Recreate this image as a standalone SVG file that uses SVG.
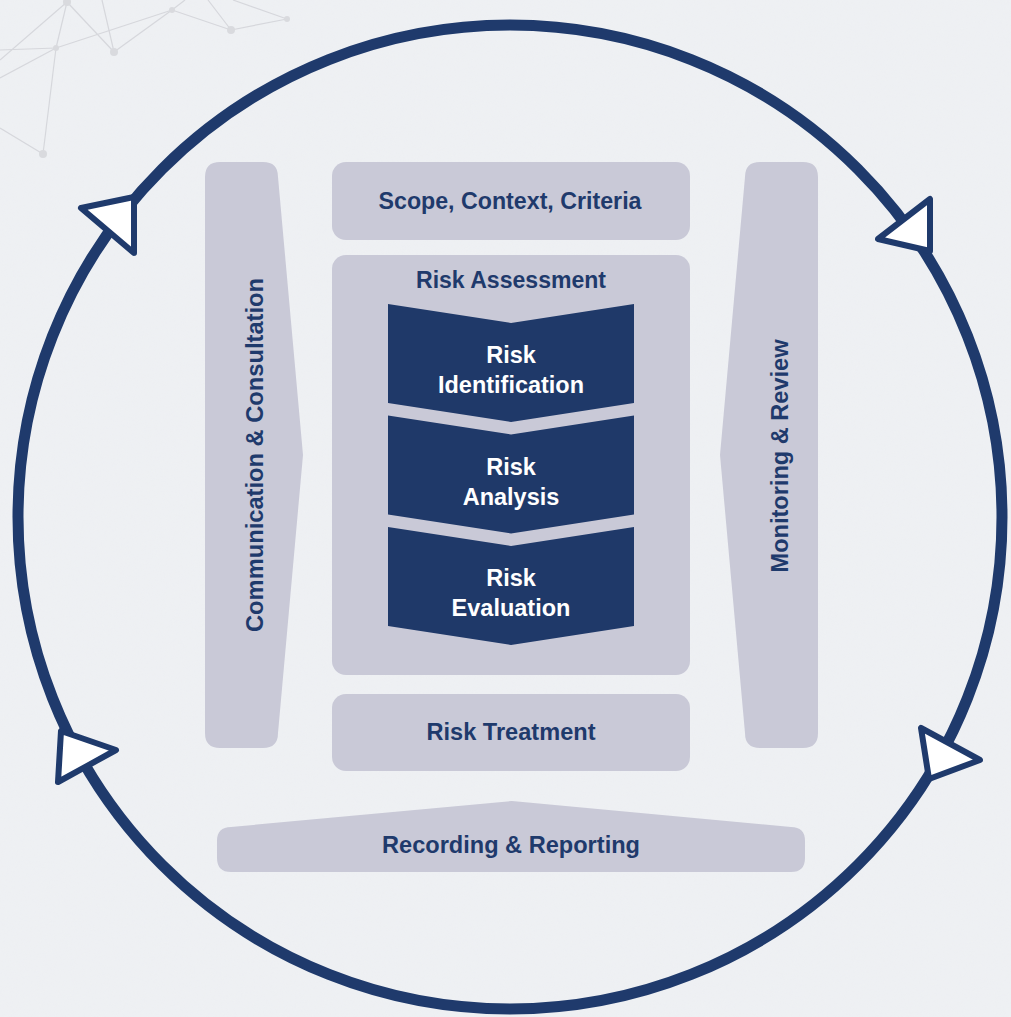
<svg xmlns="http://www.w3.org/2000/svg" width="1011" height="1017" viewBox="0 0 1011 1017">
  <defs>
    <style>
      .bg { fill: #eef0f3; }
      .net line { stroke: #d6d7dc; stroke-width: 1.2; }
      .net circle { fill: #d9dade; }
      .box { fill: #c9c9d7; }
      .chev { fill: #1f3969; }
      .ring { fill: none; stroke: #1f3a6c; stroke-width: 11; }
      .arrow { fill: #ffffff; stroke: #1f3a6c; stroke-width: 6; stroke-linejoin: round; }
      .lbl { font-family: "Liberation Sans", Arial, sans-serif; font-weight: bold; font-size: 23px; fill: #1f3a6c; text-anchor: middle; }
      .wlbl { font-family: "Liberation Sans", Arial, sans-serif; font-weight: bold; font-size: 23.5px; fill: #ffffff; text-anchor: middle; }
    </style>
    <filter id="paper" x="0" y="0" width="100%" height="100%">
      <feTurbulence type="fractalNoise" baseFrequency="0.9" numOctaves="2" seed="3" result="n"/>
      <feColorMatrix in="n" type="matrix" values="0 0 0 0 0.85  0 0 0 0 0.86  0 0 0 0 0.88  0 0 0 0.25 0"/>
    </filter>
  </defs>
  <rect class="bg" x="0" y="0" width="1011" height="1017"/>
  <rect x="0" y="0" width="1011" height="1017" filter="url(#paper)" opacity="0.6"/>

  <g class="net">
    <line x1="67" y1="2" x2="56" y2="48"/>
    <line x1="67" y1="2" x2="114" y2="52"/>
    <line x1="67" y1="2" x2="0" y2="60"/>
    <line x1="56" y1="48" x2="0" y2="50"/>
    <line x1="56" y1="48" x2="0" y2="78"/>
    <line x1="56" y1="48" x2="43" y2="154"/>
    <line x1="56" y1="48" x2="172" y2="10"/>
    <line x1="114" y1="52" x2="172" y2="10"/>
    <line x1="114" y1="52" x2="102" y2="0"/>
    <line x1="0" y1="128" x2="43" y2="154"/>
    <line x1="172" y1="10" x2="231" y2="30"/>
    <line x1="172" y1="10" x2="185" y2="0"/>
    <line x1="231" y1="30" x2="287" y2="19"/>
    <line x1="231" y1="30" x2="208" y2="0"/>
    <line x1="287" y1="19" x2="233" y2="0"/>
    <circle cx="67" cy="2" r="4"/>
    <circle cx="56" cy="48" r="3"/>
    <circle cx="114" cy="52" r="4"/>
    <circle cx="172" cy="10" r="3"/>
    <circle cx="231" cy="30" r="4"/>
    <circle cx="287" cy="19" r="3"/>
    <circle cx="43" cy="154" r="4"/>
  </g>

  <g id="connectors">
    <circle class="ring" cx="510" cy="517" r="492"/>
    <polygon class="arrow" points="81,208 134,197 134,253"/>
    <polygon class="arrow" points="878,239 930,199 930,251"/>
    <polygon class="arrow" points="61,731 58,782 116,750"/>
    <polygon class="arrow" points="921,728 929,779 980,760"/>
  </g>

  <g id="communication-consultation">
    <path class="box" d="M220,162 L263,162 Q278,162 278,177 L303,455 L278,733 Q278,748 263,748 L220,748 Q205,748 205,733 L205,177 Q205,162 220,162 Z"/>
    <text class="lbl" transform="translate(263,455) rotate(-90)" textLength="354" lengthAdjust="spacingAndGlyphs">Communication &amp; Consultation</text>
  </g>

  <g id="monitoring-review">
    <path class="box" d="M760,162 L803,162 Q818,162 818,177 L818,733 Q818,748 803,748 L760,748 Q745,748 745,733 L720,455 L745,177 Q745,162 760,162 Z"/>
    <text class="lbl" transform="translate(788,456) rotate(-90)" textLength="233" lengthAdjust="spacingAndGlyphs">Monitoring &amp; Review</text>
  </g>

  <g id="scope-context-criteria">
    <rect class="box" x="332" y="162" width="358" height="78" rx="14"/>
    <text class="lbl" x="510" y="209" textLength="263" lengthAdjust="spacingAndGlyphs">Scope, Context, Criteria</text>
  </g>

  <g id="risk-assessment">
    <rect class="box" x="332" y="255" width="358" height="420" rx="14"/>
    <text class="lbl" x="511" y="288" textLength="190" lengthAdjust="spacingAndGlyphs">Risk Assessment</text>
  </g>

  <g id="risk-identification">
    <path class="chev" d="M388,304 L511,323 L634,304 L634,403 L511,422 L388,403 Z"/>
    <text class="wlbl" x="511" y="363">Risk</text>
    <text class="wlbl" x="511" y="393" textLength="146" lengthAdjust="spacingAndGlyphs">Identification</text>
  </g>

  <g id="risk-analysis">
    <path class="chev" d="M388,415.5 L511,434.5 L634,415.5 L634,514.5 L511,533.5 L388,514.5 Z"/>
    <text class="wlbl" x="511" y="474.5">Risk</text>
    <text class="wlbl" x="511" y="504.5">Analysis</text>
  </g>

  <g id="risk-evaluation">
    <path class="chev" d="M388,527 L511,546 L634,527 L634,626 L511,645 L388,626 Z"/>
    <text class="wlbl" x="511" y="586">Risk</text>
    <text class="wlbl" x="511" y="616">Evaluation</text>
  </g>

  <g id="risk-treatment">
    <rect class="box" x="332" y="694" width="358" height="77" rx="14"/>
    <text class="lbl" x="511" y="740" textLength="169" lengthAdjust="spacingAndGlyphs">Risk Treatment</text>
  </g>

  <g id="recording-reporting">
    <path class="box" d="M231,827 L512,801 L791,827 Q805,827 805,841 L805,858 Q805,872 791,872 L231,872 Q217,872 217,858 L217,841 Q217,827 231,827 Z"/>
    <text class="lbl" x="511" y="853" textLength="258" lengthAdjust="spacingAndGlyphs">Recording &amp; Reporting</text>
  </g>
</svg>
